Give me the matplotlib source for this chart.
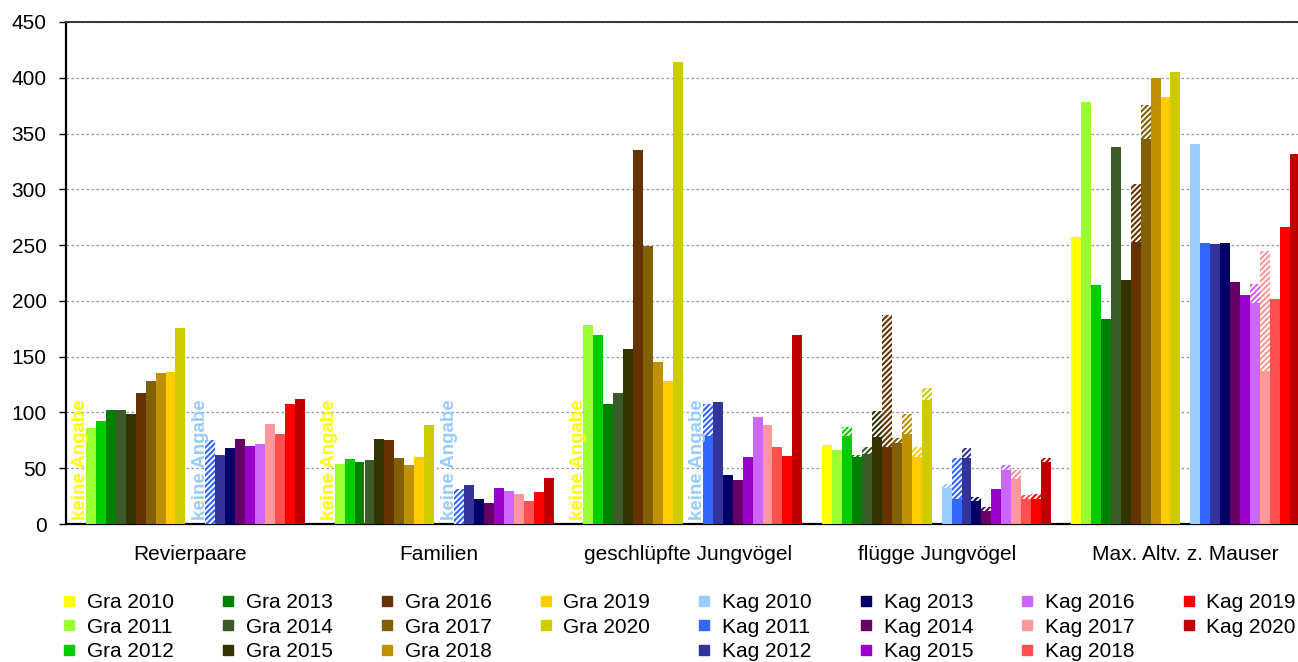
import matplotlib.pyplot as plt
import numpy as np
from matplotlib.lines import Line2D

nan = np.nan

categories = ["Revierpaare", "Familien", "geschlüpfte Jungvögel",
              "flügge Jungvögel", "Max. Altv. z. Mauser"]
years = list(range(2010, 2021))

gra_colors = ["#FFFF00", "#99FF33", "#00CC00", "#008000", "#3A5A28", "#333300",
              "#663300", "#806000", "#BF9000", "#FFCC00", "#CCCC00"]
kag_colors = ["#99CCFF", "#3366FF", "#333399", "#000066", "#660066", "#9900CC",
              "#CC66FF", "#FF9999", "#FF5050", "#FF0000", "#C00000"]

# solid part, one row per year, one column per category
gra_values = [
    [nan, nan, nan, 71, 257],
    [86, 54, 178, 66, 378],
    [92, 58, 169, 79, 214],
    [102, 56, 108, 60, 184],
    [102, 57, 117, 63, 338],
    [99, 76, 157, 78, 219],
    [117, 75, 335, 69, 253],
    [128, 59, 249, 73, 345],
    [135, 53, 145, 81, 400],
    [136, 60, 128, 60, 383],
    [176, 89, 414, 111, 405],
]
# hatched part stacked on top
gra_extra = [
    [0, 0, 0, 0, 0],
    [0, 0, 0, 0, 0],
    [0, 0, 0, 8, 0],
    [0, 0, 0, 2, 0],
    [0, 0, 0, 6, 0],
    [0, 0, 0, 23, 0],
    [0, 0, 0, 118, 52],
    [0, 0, 0, 4, 31],
    [0, 0, 0, 18, 0],
    [0, 0, 0, 9, 0],
    [0, 0, 0, 11, 0],
]
kag_values = [
    [nan, nan, nan, 32, 341],
    [0, 0, 79, 22, 252],
    [62, 35, 109, 59, 251],
    [68, 22, 44, 21, 252],
    [76, 19, 39, 12, 217],
    [70, 32, 60, 31, 205],
    [72, 30, 96, 48, 198],
    [90, 27, 89, 40, 137],
    [81, 21, 69, 22, 202],
    [108, 29, 61, 22, 266],
    [112, 41, 169, 56, 332],
]
kag_extra = [
    [0, 0, 0, 4, 0],
    [75, 31, 29, 37, 0],
    [0, 0, 0, 9, 0],
    [0, 0, 0, 3, 0],
    [0, 0, 0, 3, 0],
    [0, 0, 0, 0, 0],
    [0, 0, 0, 5, 17],
    [0, 0, 0, 8, 108],
    [0, 0, 0, 4, 0],
    [0, 0, 0, 5, 0],
    [0, 0, 0, 3, 0],
]
no_data = "keine Angabe"

plt.rcParams['font.family'] = ['Liberation Sans', 'DejaVu Sans']
plt.rcParams['hatch.linewidth'] = 1.3

fig = plt.figure(figsize=(12.98, 6.62), dpi=100)
ax = fig.add_axes([66 / 1298, 1 - 524 / 662, 1 - 66 / 1298, 502 / 662])

slot = 1 / 25
x0 = np.arange(len(categories))


def draw(values, extra, colors, offset):
    for j, (v, e, c) in enumerate(zip(values, extra, colors)):
        x = x0 + slot * (offset + j + 0.5)
        v = np.array(v, dtype=float)
        e = np.array(e, dtype=float)
        ax.bar(x, np.nan_to_num(v), width=slot, color=c, linewidth=0, zorder=3)
        ax.bar(x, e, bottom=np.nan_to_num(v), width=slot, color=c,
               hatch='//////', edgecolor='white', linewidth=0, zorder=3)
        if j == 0:
            # no value for the first year: write a note into the empty slot
            for xi, vi in zip(x, v):
                if np.isnan(vi):
                    ax.text(xi, 4, no_data, rotation=90, ha='center', va='bottom',
                            color=c, fontsize=13.5, fontweight='bold', zorder=4)


draw(gra_values, gra_extra, gra_colors, 1)
draw(kag_values, kag_extra, kag_colors, 13)

ax.set_ylim(0, 450)
ax.set_xlim(0, (1298 - 66) / 248.75)
ax.set_yticks(np.arange(0, 451, 50))
ax.yaxis.grid(True, color='#999999', linestyle=(0, (2, 2)), linewidth=0.9, zorder=0)
ax.set_axisbelow(True)
ax.tick_params(axis='y', labelsize=15, length=5, width=1, pad=9)
ax.set_xticks(x0 + 0.5)
ax.set_xticklabels(categories, fontsize=15)
ax.tick_params(axis='x', length=0, pad=15)
for s in ['left', 'bottom']:
    ax.spines[s].set_linewidth(1.6)
    ax.spines[s].set_color('black')
ax.spines['top'].set_color('#333333')
ax.spines['top'].set_linewidth(1.4)
ax.spines['right'].set_visible(False)

handles, labels = [], []
for prefix, colors in [("Gra", gra_colors), ("Kag", kag_colors)]:
    for y, c in zip(years, colors):
        handles.append(Line2D([], [], marker='s', linestyle='none', color=c,
                              markersize=7.2))
        labels.append(f"{prefix} {y}")
    handles.append(Line2D([], [], linestyle='none'))
    labels.append("")

fig.legend(handles, labels, ncol=8, loc='upper left',
           bbox_to_anchor=(64 / 1298, 1 - 593 / 662), frameon=False,
           fontsize=15, handlelength=0.5, handletextpad=0.6,
           columnspacing=2.35, labelspacing=0.27, borderaxespad=0, borderpad=0)

fig.savefig("out.png", dpi=100)
